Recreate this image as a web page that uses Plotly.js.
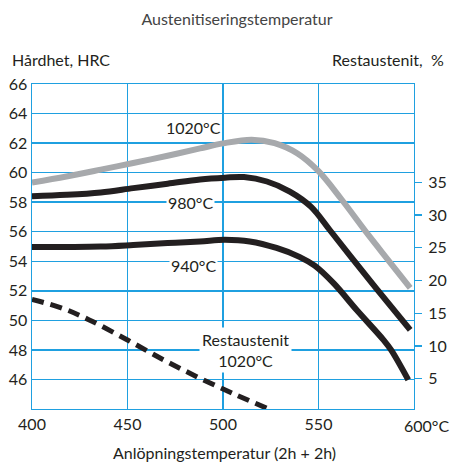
<!DOCTYPE html>
<html><head><meta charset="utf-8">
<script src="https://cdn.plot.ly/plotly-3.0.1.min.js"></script>
<style>html,body{margin:0;padding:0;background:#fff}#chart{width:450px;height:462px}</style>
</head><body><div id="chart"></div>
<script>
// Hardness curves (HRC) vs tempering temperature (°C)
const temp1020 = [400, 418, 436, 453, 471, 488, 500, 515, 527, 539, 550, 562, 576, 587, 598];
const hrc1020  = [59.33, 59.74, 60.2, 60.65, 61.14, 61.64, 61.98, 62.23, 62.0, 61.3, 60.1, 58.2, 55.8, 54.0, 52.2];
const temp980 = [400, 418, 436, 453, 471, 488, 501, 511, 523, 535, 546, 556, 567, 580, 598];
const hrc980  = [58.41, 58.5, 58.66, 58.95, 59.25, 59.54, 59.66, 59.7, 59.4, 58.72, 57.7, 56.1, 54.3, 52.2, 49.35];
const temp940 = [400, 436, 453, 471, 488, 501, 514, 528, 540, 548, 558, 570, 584, 588, 597];
const hrc940  = [54.96, 55.0, 55.1, 55.23, 55.34, 55.45, 55.34, 54.9, 54.3, 53.7, 52.5, 50.7, 48.68, 48.0, 45.97];
// Retained austenite (%) for 1020°C
const tempRA = [400, 416, 430, 450, 469, 488, 507, 523];
const raPct  = [17.1, 15.75, 13.97, 10.91, 7.86, 5.06, 2.51, 0.48];
// Tick labels
const xTicks = [400, 450, 500, 550];
const yTicks = [46, 48, 50, 52, 54, 56, 58, 60, 62, 64, 66];
const y2Ticks = [5, 10, 15, 20, 25, 30, 35];

const BLUE = '#1fa0e0';
const INK = '#231f20';
const FONT = 'Lato, "Open Sans", sans-serif';

const traces = [
  {x: temp1020, y: hrc1020, mode: 'lines', line: {color: '#a7a9ac', width: 6, shape: 'spline', smoothing: 1}, hoverinfo: 'skip'},
  {x: temp980, y: hrc980, mode: 'lines', line: {color: INK, width: 6, shape: 'spline', smoothing: 1}, hoverinfo: 'skip'},
  {x: temp940, y: hrc940, mode: 'lines', line: {color: INK, width: 6, shape: 'spline', smoothing: 1}, hoverinfo: 'skip'},
  {x: tempRA, y: raPct, yaxis: 'y2', mode: 'lines', line: {color: INK, width: 5, dash: '12px,7px', shape: 'spline', smoothing: 1}, hoverinfo: 'skip'}
];

const L = 32, R = 414, T = 84, B = 409;
const px = v => (v - L) / (R - L);
const py = v => (B - v) / (B - T);

const layout = {
  width: 450, height: 462,
  margin: {l: L, r: 450 - R, t: T, b: 462 - B, pad: 0},
  paper_bgcolor: '#fff', plot_bgcolor: '#fff',
  showlegend: false,
  font: {family: FONT, size: 16, color: INK},
  title: {text: 'Austenitiseringstemperatur', x: 237 / 450, xanchor: 'center', y: 1 - 19 / 462, yanchor: 'middle',
          font: {family: FONT, size: 16, color: '#444'}},
  xaxis: {range: [400, 600], tickvals: xTicks, ticktext: xTicks.map(String), showgrid: true, gridcolor: BLUE, gridwidth: 1.4,
          showline: true, linecolor: BLUE, linewidth: 1.4, mirror: true, zeroline: false, ticks: '', ticklabelstandoff: 0,
          tickfont: {family: FONT, size: 16, color: INK}, fixedrange: true},
  yaxis: {range: [44, 66], tickvals: yTicks, showgrid: true, gridcolor: BLUE, gridwidth: 1.4,
          showline: true, linecolor: BLUE, linewidth: 1.4, mirror: true, zeroline: false, ticks: '', ticklabelstandoff: 0,
          tickfont: {family: FONT, size: 16, color: INK}, fixedrange: true},
  yaxis2: {range: [0.37, 50], overlaying: 'y', side: 'right', tickvals: y2Ticks, showgrid: false, zeroline: false,
           showline: false, ticks: 'outside', ticklen: 7, tickwidth: 1.4, tickcolor: BLUE, ticklabelstandoff: 3,
           tickfont: {family: FONT, size: 16, color: INK}, fixedrange: true},
  annotations: [
    {text: 'Hårdhet, HRC', xref: 'paper', yref: 'paper', x: px(10), y: py(59), xanchor: 'left', yanchor: 'middle', showarrow: false,
     font: {family: FONT, size: 16, color: INK}},
    {text: 'Restaustenit,\u00a0 %', xref: 'paper', yref: 'paper', x: px(446), y: py(59), xanchor: 'right', yanchor: 'middle', showarrow: false,
     font: {family: FONT, size: 16, color: INK}},
    {text: 'Anlöpningstemperatur (2h + 2h)', xref: 'paper', yref: 'paper', x: px(224), y: py(452), xanchor: 'center', yanchor: 'middle', showarrow: false,
     font: {family: FONT, size: 16, color: INK}},
    {text: '600°C', xref: 'x', yref: 'paper', x: 600, xshift: -12.5, y: py(425), xanchor: 'left', yanchor: 'middle', showarrow: false,
     font: {family: FONT, size: 16, color: INK}},
    {text: '1020°C', xref: 'paper', yref: 'paper', x: px(193), y: py(127), xanchor: 'center', yanchor: 'middle', showarrow: false,
     font: {family: FONT, size: 16, color: INK}},
    {text: '980°C', xref: 'paper', yref: 'paper', x: px(190), y: py(202), xanchor: 'center', yanchor: 'middle', showarrow: false,
     bgcolor: '#fff', borderpad: 1, font: {family: FONT, size: 16, color: INK}},
    {text: '940°C', xref: 'paper', yref: 'paper', x: px(193), y: py(265), xanchor: 'center', yanchor: 'middle', showarrow: false,
     bgcolor: '#fff', borderpad: 1, font: {family: FONT, size: 16, color: INK}},
    {text: 'Restaustenit<br>1020°C', xref: 'paper', yref: 'paper', x: px(245), y: py(349.5), xanchor: 'center', yanchor: 'middle', showarrow: false,
     bgcolor: '#fff', borderpad: 2, font: {family: FONT, size: 16, color: INK}}
  ]
};

Plotly.newPlot('chart', traces, layout, {displayModeBar: false, staticPlot: true});
</script>
</body></html>
